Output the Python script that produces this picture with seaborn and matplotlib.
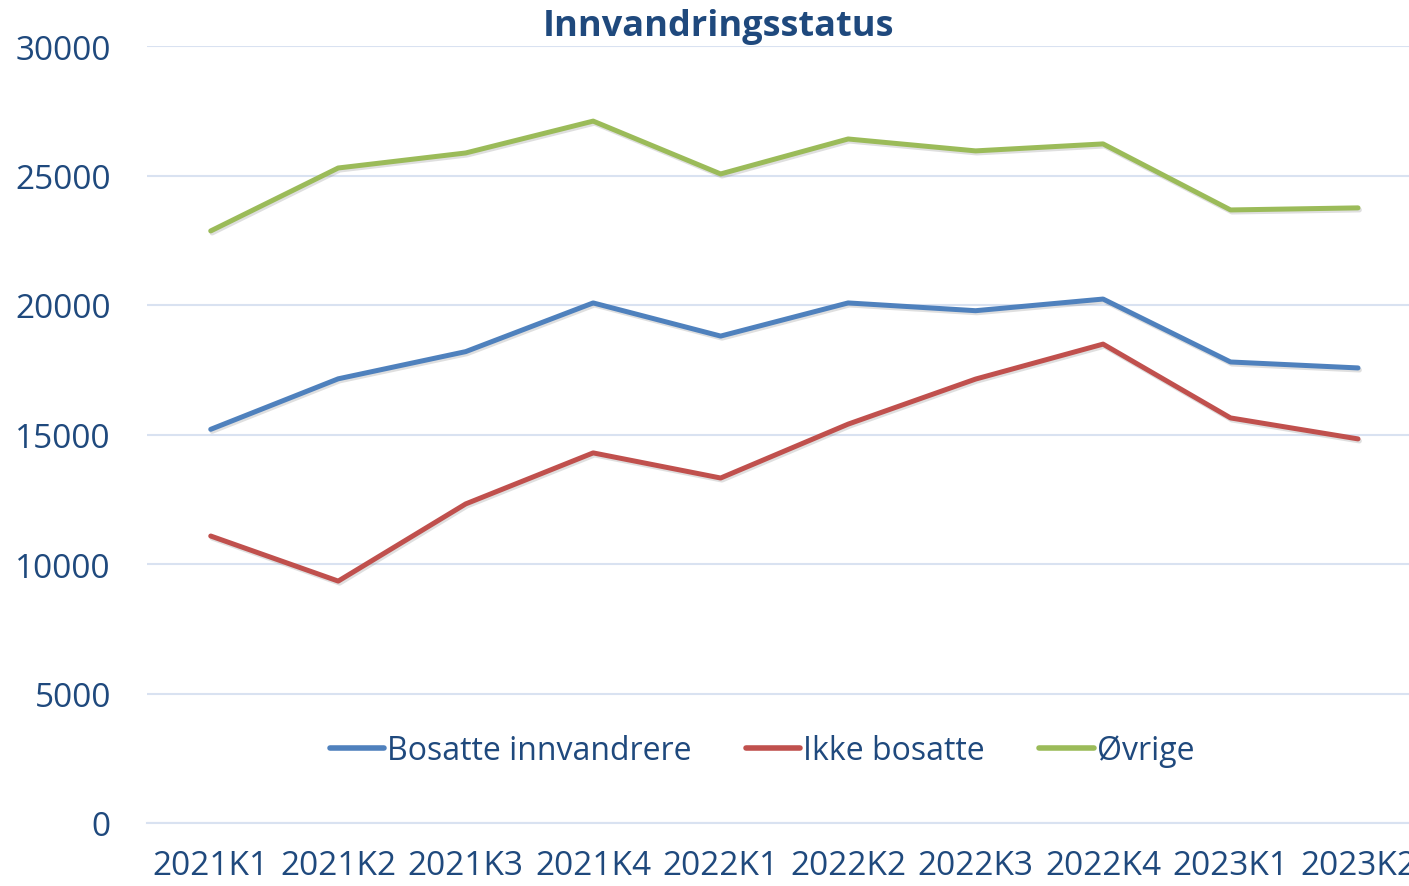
import pandas as pd
import numpy as np
import matplotlib.pyplot as plt
import matplotlib.patheffects as pe
import seaborn as sns

quarters = ['2021K1', '2021K2', '2021K3', '2021K4', '2022K1',
            '2022K2', '2022K3', '2022K4', '2023K1', '2023K2']
bosatte = [15200, 17150, 18200, 20080, 18800, 20080, 19780, 20230, 17800, 17570]
ikke_bosatte = [11080, 9340, 12320, 14290, 13320, 15400, 17140, 18490, 15640, 14830]
ovrige = [22860, 25290, 25870, 27100, 25060, 26410, 25950, 26220, 23670, 23750]
series_names = ['Bosatte innvandrere', 'Ikke bosatte', 'Øvrige']
colors = ['#4F81BD', '#C0504D', '#9BBB59']

text_color = '#1F497D'
grid_color = '#D9E2F1'

df = pd.DataFrame({
    'pos': list(range(len(quarters))) * 3,
    'value': bosatte + ikke_bosatte + ovrige,
    'serie': np.repeat(series_names, len(quarters)),
})

sns.set_style("white")
plt.rcParams['font.family'] = ['Open Sans', 'DejaVu Sans']

fig = plt.figure(figsize=(14.09, 8.87), dpi=100)
ax = fig.add_axes([147 / 1409, 63 / 887, 1 - 147 / 1409, (824 - 47) / 887])

sns.lineplot(data=df, x='pos', y='value', hue='serie', palette=colors,
             linewidth=3.6, ax=ax, legend=False, solid_capstyle='round')
for line in ax.lines:
    line.set_path_effects([pe.SimpleLineShadow(offset=(1, -1.5), alpha=0.25, shadow_color='gray'),
                           pe.Normal()])

ax.set_yticks(range(0, 30001, 5000))
ax.yaxis.grid(True, color=grid_color, linewidth=1.5)
ax.set_axisbelow(True)
ax.tick_params(axis='y', length=0, pad=26, labelsize=24, labelcolor=text_color)

# tick marks between the quarters, labels on the quarters
ax.set_xticks(np.arange(-0.5, 10, 1))
ax.set_xticklabels([])
ax.tick_params(axis='x', which='major', length=10, width=1.5, color=grid_color, direction='out')
ax.set_xticks(range(len(quarters)), minor=True)
ax.set_xticklabels(quarters, minor=True)
ax.tick_params(axis='x', which='minor', length=0, pad=19, labelsize=24, labelcolor=text_color)

ax.set_ylim(0, 30000)
ax.set_xlim(-0.5, 9.4)

for side in ['top', 'right', 'left']:
    ax.spines[side].set_visible(False)
ax.spines['bottom'].set_color(grid_color)
ax.spines['bottom'].set_linewidth(1.5)
ax.set_xlabel('')
ax.set_ylabel('')

handles = [plt.Line2D([], [], color=c, linewidth=4, solid_capstyle='round') for c in colors]
leg = fig.legend(handles, series_names, loc='center', bbox_to_anchor=(762 / 1409, 1 - 752 / 887),
                 ncol=3, frameon=False, fontsize=23, handlelength=1.7, handletextpad=0.1,
                 columnspacing=1.7)
for t in leg.get_texts():
    t.set_color(text_color)

fig.text(719 / 1409, 1 - 27 / 887, 'Innvandringsstatus', ha='center', va='center',
         fontsize=26, fontweight='bold', color=text_color)

fig.savefig('out.png', dpi=100)
